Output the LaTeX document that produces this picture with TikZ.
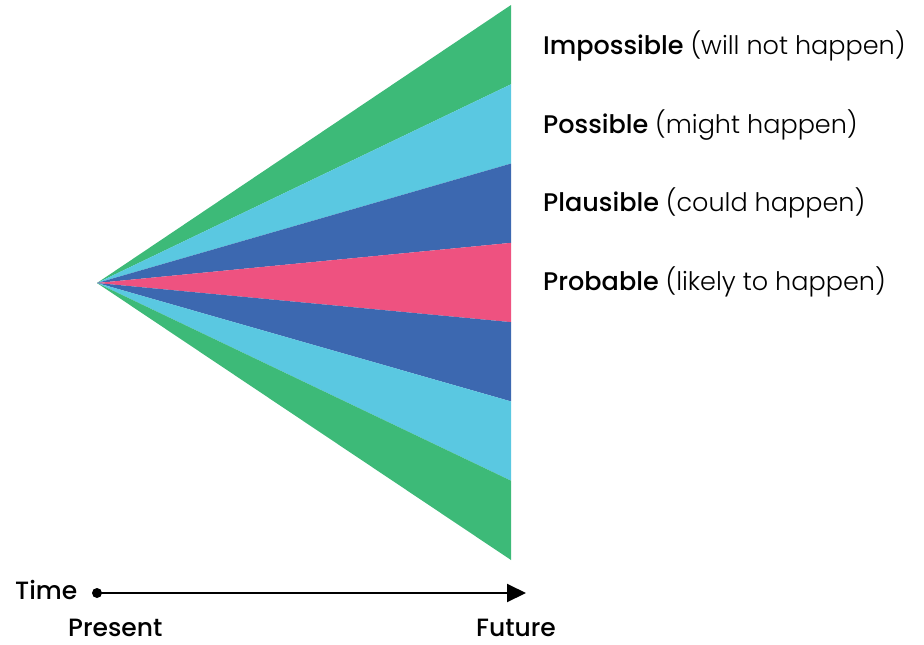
\documentclass[tikz,border=0pt]{standalone}
\usepackage{fontspec}
\setmainfont{Poppins}
\newfontfamily\lightfont{Poppins Light}
\newfontfamily\medfont{Poppins Medium}
\usetikzlibrary{arrows.meta}
\definecolor{cgreen}{RGB}{61,186,120}
\definecolor{ccyan}{RGB}{90,200,225}
\definecolor{cblue}{RGB}{60,104,176}
\definecolor{cpink}{RGB}{238,82,128}
\tikzset{
  lbl/.style={anchor=base west, inner sep=0pt, font=\fontsize{25.5}{28}\selectfont},
  axl/.style={anchor=base west, inner sep=0pt, font=\fontsize{25}{27}\selectfont\medfont},
}
\begin{document}
\begin{tikzpicture}[x=1pt,y=-1pt]
\useasboundingbox (0,0) rectangle (924,645);
\coordinate (apex) at (97,283);
\foreach \i/\c in {0/cgreen,1/ccyan,2/cblue,3/cpink,4/cblue,5/ccyan,6/cgreen}{
  \fill[\c] (apex) -- (511,{5+\i*555/7}) -- (511,{5+(\i+1)*555/7}) -- cycle;
}
\node[lbl] (l1) at (543,54) {{\medfont Impossible} {\lightfont(will not happen)}};
\node[lbl] (l2) at (543,133) {{\medfont Possible} {\lightfont(might happen)}};
\node[lbl] (l3) at (543,211) {{\medfont Plausible} {\lightfont(could happen)}};
\node[lbl] (l4) at (543,290) {{\medfont Probable} {\lightfont(likely to happen)}};
\node[axl] (time) at (15,599) {Time};
\coordinate (start) at (97,593);
\coordinate (end) at (526,593);
\fill (start) circle (5);
\draw[line width=2pt,-{Triangle[length=19pt,width=18pt]}] (start) -- (end);
\node[axl] (present) at (68,636) {Present};
\node[axl] (future) at (476,636) {Future};
\end{tikzpicture}
\end{document}
